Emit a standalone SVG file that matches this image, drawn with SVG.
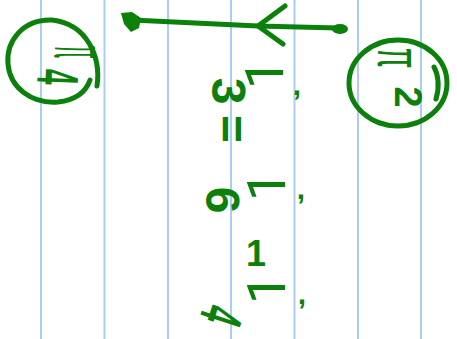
<svg xmlns="http://www.w3.org/2000/svg" width="457" height="339" viewBox="0 0 457 339">
<style>
.rule{stroke:#a9cdf6;stroke-width:2}
.ink{fill:none;stroke:#0b800b;stroke-width:5;stroke-linecap:round;stroke-linejoin:round}
.dot{fill:#0b800b}
.hw{fill:#0b800b;font-family:"Liberation Sans",Arial,sans-serif;font-weight:bold;text-anchor:middle;dominant-baseline:central}
.thin{font-weight:normal}
.hook{font-family:Roboto,"Liberation Sans",sans-serif;font-weight:normal}
</style>
<rect width="457" height="339" fill="#ffffff"/>
<g id="rules">
<line class="rule" x1="41" y1="0" x2="41" y2="339"/>
<line class="rule" x1="104.5" y1="0" x2="104.5" y2="339"/>
<line class="rule" x1="168" y1="0" x2="168" y2="339"/>
<line class="rule" x1="231" y1="0" x2="231" y2="339"/>
<line class="rule" x1="294.5" y1="0" x2="294.5" y2="339"/>
<line class="rule" x1="358" y1="0" x2="358" y2="339"/>
<line class="rule" x1="421" y1="0" x2="421" y2="339"/>
</g>
<g id="connectors">
<path class="ink" d="M132,20 L258,26 L338,28"/>
<path class="ink" d="M285,6 L258,26 L283,44"/>
<path class="dot" d="M121,13 L132,12 L141,18 L139,28 L131,32 L124,24 Z"/>
<ellipse class="dot" cx="340" cy="29" rx="8" ry="5"/>
</g>
<g id="node-left">
<path class="ink" d="M97,86 C101,58 88,24 52,20 C22,19 6,42 8,64 C10,88 32,104 58,102 C76,100 86,92 90,80"/>
<text class="hw thin" font-size="24" transform="translate(82,52) rotate(90) scale(0.8,3.2)">π</text>
<text class="hw" font-size="28" transform="translate(58,77) rotate(92) scale(1,2.1)">4</text>
</g>
<g id="node-right">
<path class="ink" d="M436,99 C440,86 438,74 434,67"/>
<ellipse class="ink" cx="398" cy="83" rx="49" ry="43"/>
<text class="hw thin" font-size="30" transform="translate(400,58) rotate(90) scale(1,2.1)">π</text>
<text class="hw" font-size="38" transform="translate(408,97) rotate(90)">2</text>
</g>
<g id="expr">
<text class="hw" font-size="48" transform="translate(228,91) rotate(90)">3</text>
<text class="hw hook" font-size="54" transform="translate(264,74) rotate(-90)">1</text>
<text class="hw" font-size="30" x="297" y="84">,</text>
<text class="hw" font-size="48" transform="translate(231,129) rotate(90)">=</text>
<text class="hw" font-size="48" transform="translate(222,200) rotate(90)">6</text>
<text class="hw hook" font-size="54" transform="translate(266,186) rotate(-90)">1</text>
<text class="hw" font-size="30" x="301" y="188">,</text>
<text class="hw" font-size="36" x="256" y="253">1</text>
<text class="hw hook" font-size="54" transform="translate(266,289) rotate(-90)">1</text>
<text class="hw" font-size="30" x="302" y="293">,</text>
<text class="hw" font-size="30" transform="translate(222,316) rotate(108) scale(1,2)">4</text>
</g>
</svg>
